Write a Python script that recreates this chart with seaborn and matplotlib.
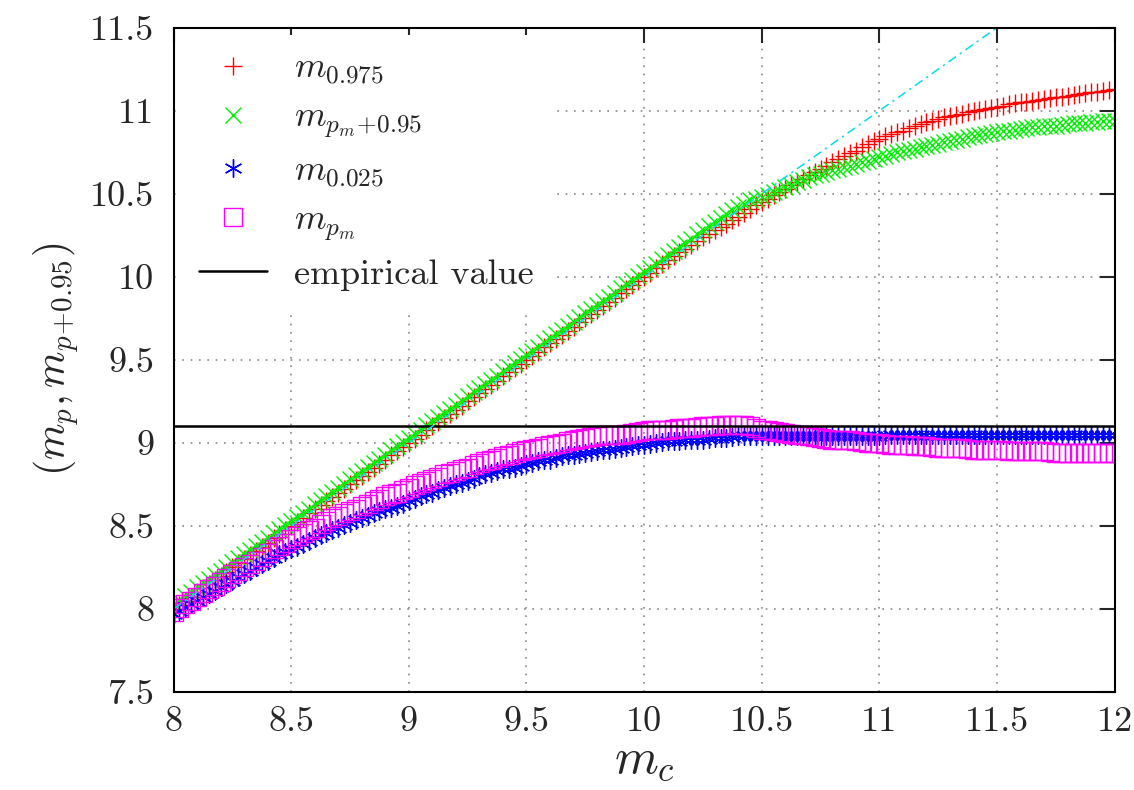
import numpy as np
import matplotlib
matplotlib.use("Agg")
import matplotlib.pyplot as plt
import seaborn as sns

# x positions (m_c), step 0.025 from 8 to 12 (161 points)
m_c = np.linspace(8.0, 12.0, 161)

# m_0.975 (red +)
m_0975 = [8.000, 8.025, 8.050, 8.075, 8.100, 8.125, 8.150, 8.175,
          8.200, 8.225, 8.250, 8.275, 8.300, 8.325, 8.350, 8.375,
          8.400, 8.425, 8.450, 8.475, 8.500, 8.525, 8.550, 8.575,
          8.600, 8.625, 8.650, 8.675, 8.700, 8.725, 8.750, 8.775,
          8.800, 8.825, 8.850, 8.875, 8.900, 8.925, 8.950, 8.975,
          9.000, 9.025, 9.050, 9.075, 9.100, 9.125, 9.150, 9.175,
          9.200, 9.225, 9.250, 9.275, 9.300, 9.325, 9.350, 9.375,
          9.400, 9.425, 9.450, 9.475, 9.500, 9.525, 9.550, 9.575,
          9.600, 9.625, 9.650, 9.675, 9.700, 9.725, 9.750, 9.775,
          9.800, 9.825, 9.850, 9.875, 9.900, 9.925, 9.950, 9.975,
          10.000, 10.025, 10.050, 10.075, 10.100, 10.125, 10.150, 10.170,
          10.190, 10.215, 10.240, 10.260, 10.280, 10.300, 10.320, 10.340,
          10.360, 10.385, 10.410, 10.430, 10.450, 10.470, 10.490, 10.510,
          10.530, 10.550, 10.570, 10.590, 10.610, 10.630, 10.650, 10.670,
          10.690, 10.710, 10.730, 10.745, 10.760, 10.780, 10.800, 10.815,
          10.830, 10.845, 10.860, 10.870, 10.880, 10.895, 10.910, 10.920,
          10.930, 10.940, 10.950, 10.960, 10.970, 10.975, 10.980, 10.990,
          11.000, 11.005, 11.010, 11.015, 11.020, 11.030, 11.040, 11.045,
          11.050, 11.055, 11.060, 11.065, 11.070, 11.075, 11.080, 11.085,
          11.090, 11.095, 11.100, 11.105, 11.110, 11.115, 11.120, 11.125,
          11.130]

# m_{p_m+0.95} (green x)
m_pm095 = [8.030, 8.055, 8.080, 8.105, 8.130, 8.155, 8.180, 8.205,
           8.230, 8.255, 8.280, 8.305, 8.330, 8.355, 8.380, 8.405,
           8.430, 8.455, 8.480, 8.505, 8.530, 8.555, 8.580, 8.605,
           8.630, 8.655, 8.680, 8.705, 8.730, 8.755, 8.780, 8.805,
           8.830, 8.855, 8.880, 8.905, 8.930, 8.955, 8.980, 9.005,
           9.030, 9.055, 9.080, 9.105, 9.130, 9.155, 9.180, 9.205,
           9.230, 9.255, 9.280, 9.305, 9.330, 9.355, 9.380, 9.405,
           9.430, 9.455, 9.480, 9.505, 9.530, 9.555, 9.580, 9.605,
           9.630, 9.655, 9.680, 9.705, 9.730, 9.755, 9.780, 9.805,
           9.830, 9.855, 9.880, 9.905, 9.930, 9.955, 9.980, 10.005,
           10.030, 10.055, 10.080, 10.105, 10.130, 10.155, 10.180, 10.205,
           10.230, 10.255, 10.280, 10.305, 10.330, 10.355, 10.380, 10.400,
           10.420, 10.440, 10.460, 10.470, 10.480, 10.495, 10.510, 10.525,
           10.540, 10.555, 10.570, 10.585, 10.600, 10.610, 10.620, 10.630,
           10.640, 10.650, 10.660, 10.670, 10.680, 10.690, 10.700, 10.710,
           10.720, 10.730, 10.740, 10.750, 10.760, 10.765, 10.770, 10.780,
           10.790, 10.795, 10.800, 10.810, 10.820, 10.825, 10.830, 10.840,
           10.850, 10.855, 10.860, 10.865, 10.870, 10.875, 10.880, 10.885,
           10.890, 10.895, 10.900, 10.903, 10.905, 10.908, 10.910, 10.915,
           10.920, 10.923, 10.925, 10.928, 10.930, 10.933, 10.935, 10.938,
           10.940]

# m_0.025 (blue asterisk)
m_0025 = [7.970, 7.990, 8.010, 8.030, 8.050, 8.070, 8.090, 8.110,
          8.130, 8.150, 8.170, 8.190, 8.210, 8.230, 8.250, 8.270,
          8.290, 8.310, 8.330, 8.345, 8.360, 8.375, 8.390, 8.410,
          8.430, 8.445, 8.460, 8.475, 8.490, 8.505, 8.520, 8.535,
          8.550, 8.560, 8.575, 8.590, 8.600, 8.610, 8.620, 8.635,
          8.650, 8.665, 8.680, 8.690, 8.700, 8.715, 8.730, 8.740,
          8.750, 8.760, 8.770, 8.785, 8.800, 8.810, 8.820, 8.830,
          8.840, 8.845, 8.850, 8.860, 8.870, 8.880, 8.890, 8.895,
          8.900, 8.910, 8.920, 8.925, 8.930, 8.935, 8.940, 8.945,
          8.950, 8.955, 8.960, 8.965, 8.970, 8.975, 8.980, 8.985,
          8.990, 8.995, 9.000, 9.005, 9.010, 9.010, 9.010, 9.015,
          9.020, 9.020, 9.020, 9.025, 9.030, 9.030, 9.030, 9.035,
          9.040, 9.040, 9.040, 9.040, 9.040, 9.040, 9.040, 9.040,
          9.040, 9.040, 9.040, 9.040, 9.040, 9.040, 9.040, 9.040,
          9.040, 9.040, 9.040, 9.040, 9.040, 9.040, 9.040, 9.040,
          9.040, 9.045, 9.050, 9.050, 9.050, 9.050, 9.050, 9.050,
          9.050, 9.050, 9.050, 9.050, 9.050, 9.050, 9.050, 9.050,
          9.050, 9.050, 9.050, 9.050, 9.050, 9.050, 9.050, 9.050,
          9.050, 9.050, 9.050, 9.050, 9.050, 9.050, 9.050, 9.050,
          9.050, 9.050, 9.050, 9.050, 9.050, 9.050, 9.050, 9.050,
          9.050]

# m_{p_m} (magenta open square)
m_pm = [7.980, 8.005, 8.030, 8.050, 8.070, 8.095, 8.120, 8.140,
        8.160, 8.185, 8.210, 8.230, 8.250, 8.270, 8.290, 8.315,
        8.340, 8.360, 8.380, 8.400, 8.420, 8.440, 8.460, 8.475,
        8.490, 8.510, 8.530, 8.545, 8.560, 8.575, 8.590, 8.605,
        8.620, 8.635, 8.650, 8.665, 8.680, 8.690, 8.700, 8.715,
        8.730, 8.745, 8.760, 8.770, 8.780, 8.795, 8.810, 8.820,
        8.830, 8.840, 8.850, 8.865, 8.880, 8.890, 8.900, 8.910,
        8.920, 8.930, 8.940, 8.950, 8.960, 8.965, 8.970, 8.980,
        8.990, 8.995, 9.000, 9.010, 9.020, 9.025, 9.030, 9.035,
        9.040, 9.045, 9.050, 9.050, 9.050, 9.055, 9.060, 9.065,
        9.070, 9.075, 9.080, 9.080, 9.080, 9.085, 9.090, 9.090,
        9.090, 9.095, 9.100, 9.100, 9.100, 9.105, 9.110, 9.110,
        9.110, 9.105, 9.100, 9.090, 9.080, 9.075, 9.070, 9.065,
        9.060, 9.055, 9.050, 9.045, 9.040, 9.035, 9.030, 9.025,
        9.020, 9.020, 9.020, 9.015, 9.010, 9.005, 9.000, 9.000,
        9.000, 8.995, 8.990, 8.990, 8.990, 8.985, 8.980, 8.980,
        8.980, 8.975, 8.970, 8.970, 8.970, 8.970, 8.970, 8.965,
        8.960, 8.960, 8.960, 8.960, 8.960, 8.955, 8.950, 8.950,
        8.950, 8.950, 8.950, 8.950, 8.950, 8.945, 8.940, 8.940,
        8.940, 8.940, 8.940, 8.940, 8.940, 8.940, 8.940, 8.940,
        8.940]

# empirical value and the diagonal reference line
emp_x = [8, 12]
emp_y = [9.1, 9.1]
diag_x = [8, 12]
diag_y = [8, 12]

xticks = [8, 8.5, 9, 9.5, 10, 10.5, 11, 11.5, 12]
xticklabels = ["8", "8.5", "9", "9.5", "10", "10.5", "11", "11.5", "12"]
yticks = [7.5, 8, 8.5, 9, 9.5, 10, 10.5, 11, 11.5]
yticklabels = ["7.5", "8", "8.5", "9", "9.5", "10", "10.5", "11", "11.5"]

sns.set_style("white")
plt.rcParams["font.family"] = ["cmr10", "DejaVu Serif"]
plt.rcParams["mathtext.fontset"] = "cm"
plt.rcParams["axes.formatter.use_mathtext"] = True

fig, ax = plt.subplots(figsize=(11.34, 7.9), dpi=100)
fig.subplots_adjust(left=0.153, right=0.983, top=0.965, bottom=0.124)

ms = 13
mew = 1.0  # thinner strokes render dark in Agg at this density
sns.lineplot(x=m_c, y=m_0975, ax=ax, color="#ff0000", marker="+", linestyle="none",
             markersize=ms, markeredgewidth=mew, markeredgecolor="#ff0000",
             label=r"$m_{0.975}$")
sns.lineplot(x=m_c, y=m_pm095, ax=ax, color="#00ff00", marker="x", linestyle="none",
             markersize=ms * 0.85, markeredgewidth=mew, markeredgecolor="#00ee00",
             label=r"$m_{p_m\!+\!0.95}$")
sns.lineplot(x=m_c, y=m_0025, ax=ax, color="#0000ff", marker=(6, 2, 0), linestyle="none",
             markersize=ms, markeredgewidth=mew, markeredgecolor="#0000ff",
             label=r"$m_{0.025}$")
sns.lineplot(x=m_c, y=m_pm, ax=ax, color="#ff00ff", marker="s", linestyle="none",
             markersize=ms * 0.95, markeredgewidth=mew, markerfacecolor="none",
             markeredgecolor="#ff00ff", label=r"$m_{p_m}$")
sns.lineplot(x=emp_x, y=emp_y, ax=ax, color="black", linewidth=1.8,
             label="empirical value")
sns.lineplot(x=diag_x, y=diag_y, ax=ax, color="#00e0e8", linewidth=1.1,
             linestyle=(0, (6, 3, 1.5, 3)))

ax.set_xlim(8, 12)
ax.set_ylim(7.5, 11.5)
ax.set_xticks(xticks)
ax.set_xticklabels(xticklabels)
ax.set_yticks(yticks)
ax.set_yticklabels(yticklabels)
ax.tick_params(direction="in", length=11, width=1.5, labelsize=26, pad=10,
               top=True, right=True)
ax.tick_params(axis="y", pad=14)
for s in ax.spines.values():
    s.set_linewidth(1.5)
    s.set_color("black")

ax.grid(True, color="#888888", linestyle=(0, (1, 4)), linewidth=1.2)
ax.set_axisbelow(True)

ax.set_xlabel(r"$m_c$", fontsize=36, labelpad=0)
ax.set_ylabel(r"$(m_p,m_{p\!+\!0.95})$", fontsize=30, labelpad=6)

leg = ax.legend(loc="upper left", bbox_to_anchor=(0.0, 1.0), fontsize=26,
                frameon=True, framealpha=1, facecolor="white", edgecolor="none",
                handlelength=1.9, handletextpad=0.75, labelspacing=0.42,
                borderpad=0.5, borderaxespad=0.2, markerscale=1.0)

fig.savefig("out.png", dpi=100)
